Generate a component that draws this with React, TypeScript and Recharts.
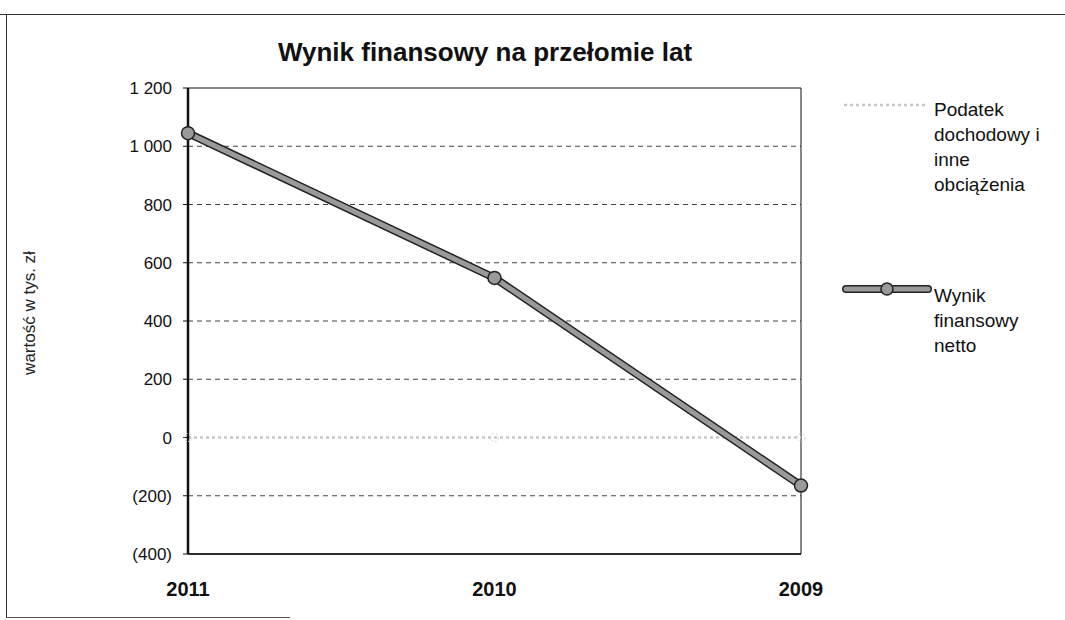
import { CartesianGrid, Legend, Line, LineChart, ReferenceArea, XAxis, YAxis } from 'recharts'

const years = ['2011', '2010', '2009']
const podatek = [0, 0, 0]
const netto = [1045, 548, -165]
const yTicks = [-400, -200, 0, 200, 400, 600, 800, 1000, 1200]
const gridValues = [-200, 200, 400, 600, 800, 1000]

const seriesNames: Record<string, string[]> = {
  podatek: ['Podatek', 'dochodowy i', 'inne', 'obciążenia'],
  netto: ['Wynik', 'finansowy', 'netto'],
}

const data = years.map((year, i) => ({ year, podatek: podatek[i], netto: netto[i] }))

const font = '"Liberation Sans", Arial, sans-serif'

const formatTick = (v: number) => {
  const abs = Math.abs(v)
  const s = abs >= 1000 ? `${Math.floor(abs / 1000)} ${String(abs % 1000).padStart(3, '0')}` : `${abs}`
  return v < 0 ? `(${s})` : s
}

function LegendSample({ kind }: { kind: string }) {
  if (kind === 'podatek') {
    return (
      <svg width={86} height={14} style={{ display: 'block' }}>
        <line x1={2} y1={7} x2={84} y2={7} stroke="#c8c8c8" strokeWidth={2.5} strokeDasharray="3 3" />
      </svg>
    )
  }
  return (
    <svg width={90} height={18} style={{ display: 'block' }}>
      <line x1={4} y1={9} x2={86} y2={9} stroke="#222" strokeWidth={8} strokeLinecap="round" />
      <line x1={4} y1={9} x2={86} y2={9} stroke="#9a9a9a" strokeWidth={5} strokeLinecap="round" />
      <circle cx={45} cy={9} r={6} fill="#9a9a9a" stroke="#222" strokeWidth={1.5} />
    </svg>
  )
}

function renderLegend(props: any) {
  const items = (props.payload || []).filter((p: any) => p.type !== 'none')
  return (
    <div style={{ fontFamily: font, fontSize: 19, lineHeight: '25px', color: '#111' }}>
      {items.map((p: any, i: number) => (
        <div key={p.dataKey} style={{ display: 'flex', alignItems: 'flex-start', marginBottom: i === 0 ? 82 : 0 }}>
          <div style={{ width: 92, paddingTop: p.dataKey === 'podatek' ? 3 : 1 }}>
            <LegendSample kind={p.dataKey} />
          </div>
          <div style={{ marginTop: p.dataKey === 'podatek' ? 2 : 4 }}>
            {seriesNames[p.dataKey].map((line) => (
              <div key={line}>{line}</div>
            ))}
          </div>
        </div>
      ))}
    </div>
  )
}

export default function App() {
  return (
    <div style={{ position: 'fixed', left: 0, top: 0, width: 1065, height: 620, background: '#fff', fontFamily: font }}>
      {/* scanned page frame */}
      <div style={{ position: 'absolute', left: 0, top: 14, width: 1065, borderTop: '1.5px solid #333' }} />
      <div style={{ position: 'absolute', left: 6, top: 14, height: 603, borderLeft: '1.5px solid #333' }} />
      <div style={{ position: 'absolute', left: 6, top: 617, width: 284, borderTop: '1.5px solid #555' }} />

      <div
        style={{
          position: 'absolute',
          left: 0,
          width: 970,
          top: 37,
          textAlign: 'center',
          fontSize: 26,
          fontWeight: 'bold',
          color: '#111',
        }}
      >
        Wynik finansowy na przełomie lat
      </div>

      <LineChart width={1065} height={620} data={data} margin={{ top: 88, right: 44, bottom: 16, left: 0 }}>
        <CartesianGrid
          vertical={false}
          horizontalValues={gridValues}
          stroke="#444"
          strokeDasharray="5 4"
        />
        <XAxis
          dataKey="year"
          padding={{ left: 0, right: 0 }}
          height={50}
          tickLine={false}
          axisLine={{ stroke: '#111', strokeWidth: 1.5 }}
          tickMargin={22}
          tick={{ fill: '#111', fontSize: 20, fontWeight: 'bold', fontFamily: font }}
        />
        <YAxis
          width={188}
          domain={[-400, 1200]}
          ticks={yTicks}
          interval={0}
          tickFormatter={formatTick}
          tickSize={5}
          tickMargin={11}
          tickLine={{ stroke: '#111' }}
          axisLine={{ stroke: '#111', strokeWidth: 2.5 }}
          tick={{ fill: '#111', fontSize: 17, fontFamily: font }}
          label={{
            content: ({ viewBox }: any) => {
              const x = viewBox.x + 31
              const y = viewBox.y + viewBox.height / 2 - 8
              return (
                <text
                  x={x}
                  y={y}
                  transform={`rotate(-90 ${x} ${y})`}
                  textAnchor="middle"
                  dominantBaseline="middle"
                  fontSize={17}
                  fontFamily={font}
                  fill="#222"
                >
                  wartość w tys. zł
                </text>
              )
            },
          }}
        />
        <ReferenceArea x1="2011" x2="2009" y1={-400} y2={1200} fill="none" stroke="#111" strokeWidth={1} ifOverflow="visible" />
        <Legend
          layout="vertical"
          verticalAlign="top"
          align="right"
          content={renderLegend}
          wrapperStyle={{ left: 842, top: 95, width: 220, right: 'auto' }}
        />
        <Line
          dataKey="podatek"
          name="Podatek dochodowy i inne obciążenia"
          stroke="#c8c8c8"
          strokeWidth={2.5}
          strokeDasharray="3 3"
          dot={{ r: 4, fill: 'none', stroke: '#d0d0d0', strokeWidth: 1, strokeDasharray: '2 2' }}
          isAnimationActive={false}
        />
        <Line
          dataKey="netto"
          legendType="none"
          stroke="#222"
          strokeWidth={8}
          dot={false}
          isAnimationActive={false}
        />
        <Line
          dataKey="netto"
          name="Wynik finansowy netto"
          stroke="#9a9a9a"
          strokeWidth={5}
          dot={{ r: 6.5, fill: '#9a9a9a', stroke: '#222', strokeWidth: 1.5 }}
          isAnimationActive={false}
        />
      </LineChart>
    </div>
  )
}
